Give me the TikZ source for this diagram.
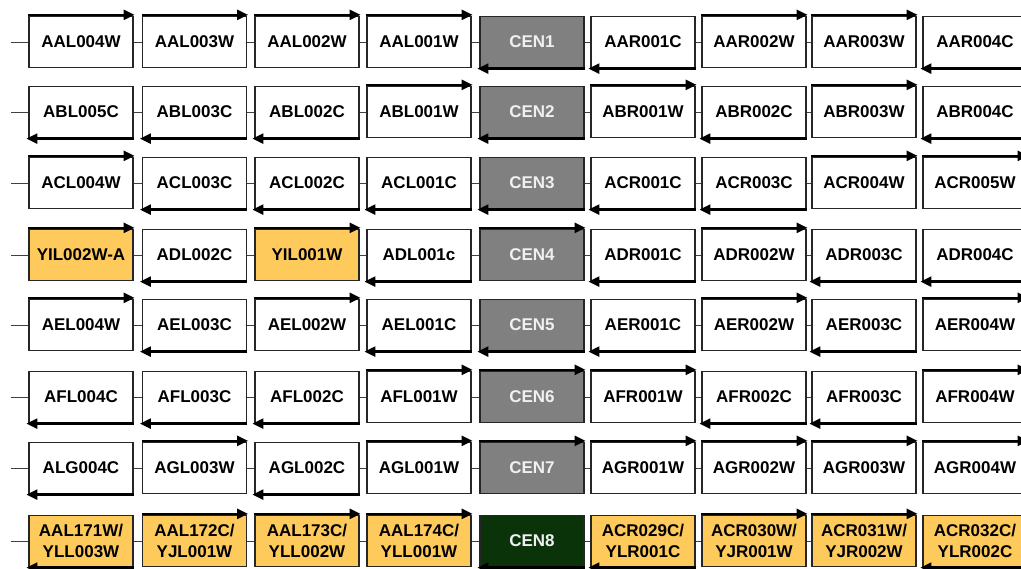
\documentclass[tikz,border=0pt]{standalone}
\usepackage{fontspec}
\setmainfont{Liberation Sans}
\usetikzlibrary{arrows.meta}
\definecolor{orng}{HTML}{FFCA5C}
\definecolor{cengray}{HTML}{808080}
\definecolor{cengreen}{HTML}{0A330A}
\definecolor{cenfont}{HTML}{F0F0F0}
\def\colx{{81,194.5,307,419,532,643,754,864,975}}
\def\rowy{{42,112,183,255,325,397,468,541}}
\newcommand\bx[5]{%
  \pgfmathsetmacro\bxX{\colx[#2-1]}%
  \pgfmathsetmacro\bxY{\rowy[#1-1]}%
  \node[box,#3] (r#1c#2) at (\bxX,\bxY) {#5};
  \if#4T\draw[arr] ([yshift=1pt]r#1c#2.north west) -- ([yshift=1pt,xshift=1pt]r#1c#2.north east);
  \else\draw[arr] ([yshift=-0.5pt]r#1c#2.south east) -- ([yshift=-0.5pt,xshift=-2pt]r#1c#2.south west);\fi
}
\begin{document}
\begin{tikzpicture}[x=1pt,y=-1pt,
  box/.style={draw=black!85,line width=1.3pt,fill=white,minimum width=104pt,minimum height=51pt,
    inner sep=0pt,align=center,font=\fontsize{17}{21}\selectfont\bfseries},
  yel/.style={fill=orng},
  cen/.style={fill=cengray,text=cenfont},
  cenb/.style={fill=cengreen,text=cenfont},
  arr/.style={line width=2.4pt,-{Triangle[length=11pt,width=10pt]}},
  link/.style={line width=0.9pt,draw=black!75}]
\useasboundingbox (0,0) rectangle (1021,569);
\clip (0,0) rectangle (1021,569);
% Row 1
\bx{1}{1}{}{T}{AAL004W}
\bx{1}{2}{}{T}{AAL003W}
\bx{1}{3}{}{T}{AAL002W}
\bx{1}{4}{}{T}{AAL001W}
\bx{1}{5}{cen}{B}{CEN1}
\bx{1}{6}{}{B}{AAR001C}
\bx{1}{7}{}{T}{AAR002W}
\bx{1}{8}{}{T}{AAR003W}
\bx{1}{9}{}{B}{AAR004C}
% Row 2
\bx{2}{1}{}{B}{ABL005C}
\bx{2}{2}{}{B}{ABL003C}
\bx{2}{3}{}{B}{ABL002C}
\bx{2}{4}{}{T}{ABL001W}
\bx{2}{5}{cen}{B}{CEN2}
\bx{2}{6}{}{T}{ABR001W}
\bx{2}{7}{}{B}{ABR002C}
\bx{2}{8}{}{T}{ABR003W}
\bx{2}{9}{}{B}{ABR004C}
% Row 3
\bx{3}{1}{}{T}{ACL004W}
\bx{3}{2}{}{B}{ACL003C}
\bx{3}{3}{}{B}{ACL002C}
\bx{3}{4}{}{B}{ACL001C}
\bx{3}{5}{cen}{B}{CEN3}
\bx{3}{6}{}{B}{ACR001C}
\bx{3}{7}{}{B}{ACR003C}
\bx{3}{8}{}{T}{ACR004W}
\bx{3}{9}{}{T}{ACR005W}
% Row 4
\bx{4}{1}{yel}{T}{YIL002W-A}
\bx{4}{2}{}{B}{ADL002C}
\bx{4}{3}{yel}{T}{YIL001W}
\bx{4}{4}{}{B}{ADL001c}
\bx{4}{5}{cen}{T}{CEN4}
\bx{4}{6}{}{B}{ADR001C}
\bx{4}{7}{}{T}{ADR002W}
\bx{4}{8}{}{B}{ADR003C}
\bx{4}{9}{}{B}{ADR004C}
% Row 5
\bx{5}{1}{}{T}{AEL004W}
\bx{5}{2}{}{B}{AEL003C}
\bx{5}{3}{}{T}{AEL002W}
\bx{5}{4}{}{B}{AEL001C}
\bx{5}{5}{cen}{B}{CEN5}
\bx{5}{6}{}{B}{AER001C}
\bx{5}{7}{}{T}{AER002W}
\bx{5}{8}{}{B}{AER003C}
\bx{5}{9}{}{T}{AER004W}
% Row 6
\bx{6}{1}{}{B}{AFL004C}
\bx{6}{2}{}{B}{AFL003C}
\bx{6}{3}{}{B}{AFL002C}
\bx{6}{4}{}{T}{AFL001W}
\bx{6}{5}{cen}{T}{CEN6}
\bx{6}{6}{}{T}{AFR001W}
\bx{6}{7}{}{B}{AFR002C}
\bx{6}{8}{}{B}{AFR003C}
\bx{6}{9}{}{T}{AFR004W}
% Row 7
\bx{7}{1}{}{B}{ALG004C}
\bx{7}{2}{}{T}{AGL003W}
\bx{7}{3}{}{B}{AGL002C}
\bx{7}{4}{}{T}{AGL001W}
\bx{7}{5}{cen}{T}{CEN7}
\bx{7}{6}{}{T}{AGR001W}
\bx{7}{7}{}{T}{AGR002W}
\bx{7}{8}{}{T}{AGR003W}
\bx{7}{9}{}{T}{AGR004W}
% Row 8
\bx{8}{1}{yel}{B}{AAL171W/\\YLL003W}
\bx{8}{2}{yel}{T}{AAL172C/\\YJL001W}
\bx{8}{3}{yel}{T}{AAL173C/\\YLL002W}
\bx{8}{4}{yel}{T}{AAL174C/\\YLL001W}
\bx{8}{5}{cenb}{B}{CEN8}
\bx{8}{6}{yel}{B}{ACR029C/\\YLR001C}
\bx{8}{7}{yel}{T}{ACR030W/\\YJR001W}
\bx{8}{8}{yel}{T}{ACR031W/\\YJR002W}
\bx{8}{9}{yel}{B}{ACR032C/\\YLR002C}
% connectors
\foreach \r in {1,...,8}{
  \pgfmathsetmacro\ly{\rowy[\r-1]}
  \coordinate (lead\r) at (11,\ly);
  \draw[link] (lead\r) -- (r\r c1.west);
  \foreach \c [evaluate=\c as \n using int(\c+1)] in {1,...,7}{
    \draw[link] (r\r c\c.east) -- (r\r c\n.west);
  }
}
\end{tikzpicture}
\end{document}
